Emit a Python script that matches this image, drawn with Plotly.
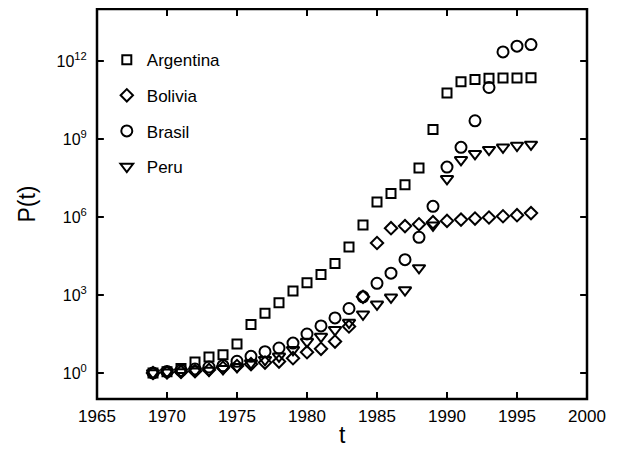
import plotly.graph_objects as go

years = list(range(1969, 1997))

# log10 of P(t)
argentina_log = [0.0, 0.05, 0.17, 0.42, 0.62, 0.70, 1.12, 1.87, 2.30, 2.70,
                 3.15, 3.47, 3.79, 4.21, 4.85, 5.69, 6.58, 6.90, 7.24, 7.88,
                 9.37, 10.77, 11.20, 11.29, 11.34, 11.35, 11.35, 11.36]
bolivia_log = [0.0, 0.02, 0.04, 0.07, 0.12, 0.20, 0.27, 0.34, 0.40, 0.44,
               0.57, 0.80, 0.93, 1.21, 1.79, 2.93, 5.00, 5.57, 5.65, 5.72,
               5.80, 5.85, 5.90, 5.94, 5.98, 6.03, 6.07, 6.15]
brasil_log = [0.0, 0.06, 0.10, 0.15, 0.23, 0.28, 0.45, 0.64, 0.82, 0.96,
              1.15, 1.50, 1.81, 2.12, 2.48, 2.93, 3.45, 3.84, 4.36, 5.22,
              6.41, 7.92, 8.68, 9.70, 10.98, 12.35, 12.57, 12.63]
peru_log = [0.0, 0.03, 0.04, 0.07, 0.10, 0.16, 0.24, 0.38, 0.51, 0.64,
            0.89, 1.21, 1.40, 1.66, 1.94, 2.26, 2.64, 2.91, 3.19, 4.04,
            5.68, 7.47, 8.20, 8.43, 8.59, 8.68, 8.75, 8.79]

series = [
    ("Argentina", argentina_log, "square-open", 9),
    ("Bolivia", bolivia_log, "diamond-open", 9.5),
    ("Brasil", brasil_log, "circle-open", 11),
    ("Peru", peru_log, "triangle-down-open", 11),
]

y_tick_exps = [0, 3, 6, 9, 12]
y_tick_vals = [10 ** e for e in y_tick_exps]
x_ticks = [1965, 1970, 1975, 1980, 1985, 1990, 1995, 2000]
x_range = [1965, 2000]
y_log_range = [-1, 14]

fig = go.Figure()
for name, logs, sym, sz in series:
    fig.add_trace(go.Scatter(
        x=years, y=[10 ** v for v in logs], mode="markers", name=name,
        legendgroup=name,
        marker=dict(symbol=sym, size=sz, color="black",
                    line=dict(color="black", width=2)),
    ))

# frame and tick marks as paper-referenced shapes
shapes = [dict(type="rect", xref="paper", yref="paper", x0=0, x1=1, y0=0, y1=1,
               line=dict(color="black", width=2.5), layer="above")]
tick_path = []
for t in x_ticks[1:-1]:
    xp = (t - x_range[0]) / (x_range[1] - x_range[0])
    tick_path.append(f"M{xp:.5f},0 L{xp:.5f},0.018 M{xp:.5f},1 L{xp:.5f},0.982")
for e in y_tick_exps:
    yp = (e - y_log_range[0]) / (y_log_range[1] - y_log_range[0])
    tick_path.append(f"M0,{yp:.5f} L0.014,{yp:.5f} M1,{yp:.5f} L0.986,{yp:.5f}")
shapes.append(dict(type="path", xref="paper", yref="paper",
                   path=" ".join(tick_path), layer="above",
                   line=dict(color="black", width=2)))

font = "Liberation Sans, Arial, sans-serif"
fig.update_layout(
    width=606, height=436,
    margin=dict(l=89, r=27, t=1, b=45, autoexpand=False),
    paper_bgcolor="white", plot_bgcolor="white",
    font=dict(family=font, size=17, color="black"),
    showlegend=True,
    shapes=shapes,
    annotations=[dict(text="t", xref="paper", yref="paper", x=0.5, y=0,
                      xanchor="center", yanchor="top", yshift=-21,
                      showarrow=False, font=dict(size=23))],
    legend=dict(x=0.02, y=0.915, xanchor="left", yanchor="top",
                bgcolor="rgba(0,0,0,0)", traceorder="grouped",
                tracegroupgap=10.5, font=dict(size=17)),
    xaxis=dict(range=x_range, tickvals=x_ticks, automargin=False,
               ticks="outside", ticklen=2, tickcolor="rgba(0,0,0,0)",
               showline=False, showgrid=False, zeroline=False,
               tickfont=dict(size=17)),
    yaxis=dict(type="log", range=y_log_range, automargin=False,
               tickvals=y_tick_vals,
               ticktext=[f"10<sup>{e}</sup>" for e in y_tick_exps],
               ticks="outside", ticklen=6, tickcolor="rgba(0,0,0,0)",
               showline=False, showgrid=False, zeroline=False,
               title=dict(text="P(t)", font=dict(size=23), standoff=14),
               tickfont=dict(size=16)),
)

fig.write_html("out.html")
